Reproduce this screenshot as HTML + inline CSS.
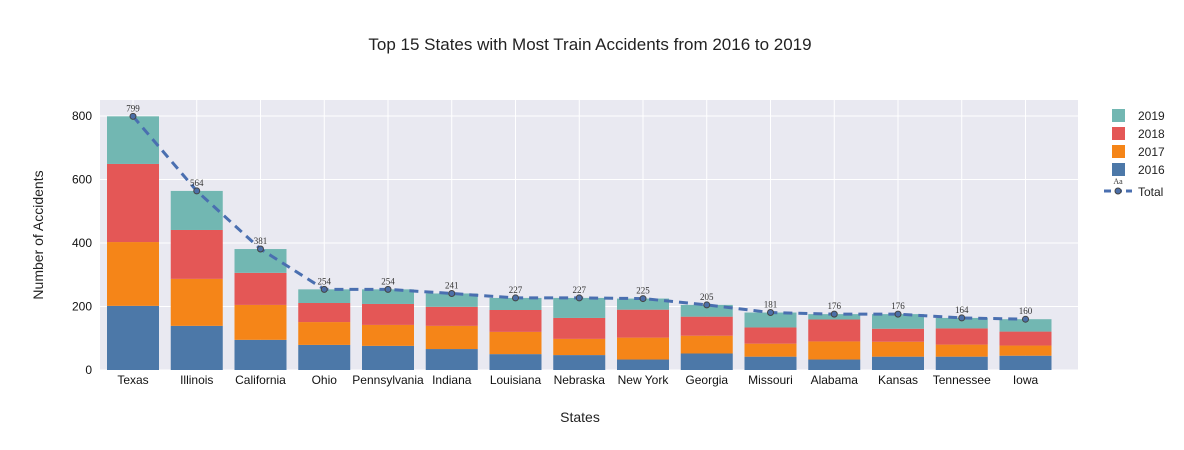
<!DOCTYPE html>
<html><head><meta charset="utf-8"><style>
body{margin:0;background:#fff;font-family:"Liberation Sans",Arial,sans-serif}
</style></head><body>
<svg id="chart" width="1184" height="450" xmlns="http://www.w3.org/2000/svg" style="display:block">
<text x="590" y="50" font-size="17" text-anchor="middle" fill="#222">Top 15 States with Most Train Accidents from 2016 to 2019</text>
<rect x="100" y="100" width="978" height="270" fill="#e9e9f1"/>
<g id="grid"></g><g id="bars"></g><g id="line"></g><g id="axes"></g>
<text transform="translate(43,235) rotate(-90)" font-size="14" text-anchor="middle" fill="#222">Number of Accidents</text>
<text x="580" y="422" font-size="14" text-anchor="middle" fill="#222">States</text>
<g id="legend"></g>
</svg>
<script>
const categories=["Texas","Illinois","California","Ohio","Pennsylvania","Indiana","Louisiana","Nebraska","New York","Georgia","Missouri","Alabama","Kansas","Tennessee","Iowa"];
const y2016=[202,139,95,79,76,66,50,47,33,52,42,33,42,42,45];
const y2017=[201,148,110,72,66,73,70,51,69,56,41,57,47,38,32];
const y2018=[246,154,101,60,66,60,69,66,88,60,51,69,41,51,44];
const y2019=[150,123,75,43,46,42,38,63,35,37,47,17,46,33,39];
const totals=[799,564,381,254,254,241,227,227,225,205,181,176,176,164,160];
const yTicks=[0,200,400,600,800];
const seriesNames=["2016","2017","2018","2019"];
const colors=["#4c78a8","#f58518","#e45756","#72b7b2"];
const NS="http://www.w3.org/2000/svg";
const Y0=370,PX=254/800;
const band=63.75;
function xs(i){return 133+band*i;}
function ys(v){return Y0-v*PX;}
function mk(tag,attrs,parent,text){const e=document.createElementNS(NS,tag);for(const k in attrs)e.setAttribute(k,attrs[k]);if(text!==undefined)e.textContent=text;parent.appendChild(e);return e;}
const grid=document.getElementById('grid'),axes=document.getElementById('axes');
categories.forEach((c,i)=>{const l=mk('line',{x1:xs(i),x2:xs(i),y1:100,y2:370,stroke:'#fff','stroke-width':1},grid);


const t=mk('text',{x:xs(i),y:384,'font-size':12,'text-anchor':'middle',fill:'#111'},axes,c);

});
yTicks.forEach(v=>{const l=mk('line',{x1:100,x2:1078,y1:ys(v),y2:ys(v),stroke:'#fff','stroke-width':1},grid);


const t=mk('text',{x:92,y:ys(v)+4,'font-size':12,'text-anchor':'end',fill:'#111'},axes,String(v));

});
const bars=document.getElementById('bars');const series=[y2016,y2017,y2018,y2019];const bw=52;
categories.forEach((c,i)=>{let base=0;series.forEach((s,k)=>{const r=mk('rect',{x:xs(i)-bw/2,y:ys(base+s[i]),width:bw,height:s[i]*PX,fill:colors[k]},bars);


base+=s[i];});});
const lg=document.getElementById('line');
const p=mk('polyline',{points:totals.map((v,i)=>xs(i)+','+ys(v)).join(' '),fill:'none',stroke:'#4a6fb0','stroke-width':3,'stroke-dasharray':'9,6'},lg);


totals.forEach((v,i)=>{const c=mk('circle',{cx:xs(i),cy:ys(v),r:3,fill:'#4c6fa8',stroke:'#444','stroke-width':1},lg);


const t=mk('text',{x:xs(i),y:ys(v)-5,'font-size':9,'text-anchor':'middle',fill:'#333','font-family':'Liberation Serif,serif'},lg,String(v));

});
const leg=document.getElementById('legend');
[3,2,1,0].forEach((k,j)=>{const y=115+j*18;const r=mk('rect',{x:1112,y:y-6,width:13,height:13,fill:colors[k]},leg);


const t=mk('text',{x:1138,y:y+5,'font-size':12,fill:'#222'},leg,seriesNames[k]);

});
const ll=mk('line',{x1:1104,x2:1132,y1:191,y2:191,stroke:'#4a6fb0','stroke-width':3,'stroke-dasharray':'7,4'},leg);


const lc=mk('circle',{cx:1118,cy:191,r:3,fill:'#4c6fa8',stroke:'#444'},leg);


const la=mk('text',{x:1118,y:184,'font-size':8,'text-anchor':'middle',fill:'#333','font-family':'Liberation Serif,serif'},leg,'Aa');


const lt=mk('text',{x:1138,y:196,'font-size':12,fill:'#222'},leg,'Total');


</script>
</body></html>
